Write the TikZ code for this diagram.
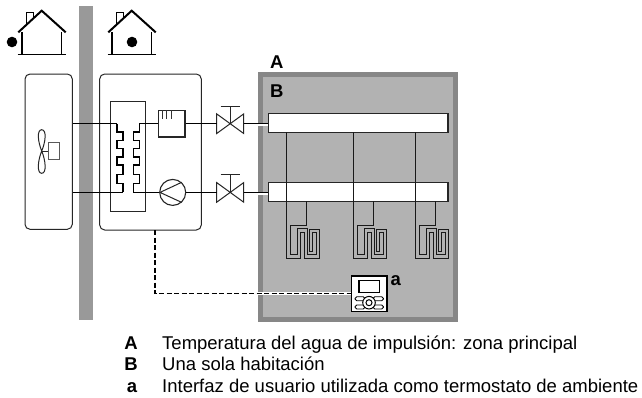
\documentclass[tikz,border=0pt]{standalone}
\usepackage{fontspec}
\setmainfont{Liberation Sans}
\begin{document}
\begin{tikzpicture}[x=1pt,y=-1pt,
  box/.style={draw=black!85,line width=1pt},
  pipe/.style={draw=black,line width=1.1pt},
  thick pipe/.style={draw=black,line width=1.6pt},
  house/.style={draw=black,line width=1.2pt},
  roof/.style={draw=black,line width=2pt},
  tag/.style={font=\bfseries\fontsize{18.5}{18.5}\selectfont,inner sep=0pt},
  legkey/.style={font=\bfseries\fontsize{18.5}{20}\selectfont,inner sep=0pt,anchor=base},
  legtxt/.style={font=\fontsize{18.5}{20}\selectfont,inner sep=0pt,anchor=base west},
  tube/.style={draw=black!90,line width=0.95pt,line join=miter},
  manifold/.style={draw=black!85,line width=1.1pt,fill=white,minimum width=179.7pt,minimum height=18.6pt,inner sep=0pt},
  dash line/.style={draw=black,line width=1.2pt,dash pattern=on 5pt off 2.5pt},
  dot/.style={circle,fill=black,minimum size=10.6pt,inner sep=0pt},
  valvepart/.style={draw=black!85,line width=1pt,fill=white}]
\useasboundingbox (0,0) rectangle (642,397);
\fill[white] (0,0) rectangle (642,397);

% wall
\fill[black!40] (79,6) rectangle (92.7,320);

% houses
\foreach \dx/\dotx/\nm in {0/12/one,90/132/two}{
  \begin{scope}[xshift=\dx pt]
    \draw[house] (22,32.3) -- (22,54.5) (61.7,32.3) -- (61.7,54.5) (17.7,54.5) -- (66,54.5);
    \draw[house,line width=1pt] (26.7,24) -- (26.7,12.3) -- (33.7,12.3) -- (33.7,17);
    \draw[roof] (18.3,32.3) -- (41.7,10.7) -- (65.7,32.3);
  \end{scope}
  \node[dot] (dot\nm) at (\dotx,42) {};
}

% room
\draw[draw=black!47,fill=black!30,line width=5pt] (260.2,74.5) rectangle (455.8,319.2);
\node[tag] (tagA) at (276.7,62) {A};
\node[tag] (tagB) at (276.7,90.7) {B};

% outdoor and indoor unit
\node[box,rounded corners=5pt,minimum width=47.3pt,minimum height=155.3pt,inner sep=0pt] (outdoor) at (48.65,151.65) {};
\node[box,rounded corners=5pt,minimum width=101.6pt,minimum height=156pt,inner sep=0pt] (indoor) at (150.5,152) {};
\node[box,minimum width=34.6pt,minimum height=110.3pt,inner sep=0pt] (hx) at (128,156.15) {};

% fan
\draw[black!85,line width=1pt] (41.7,151) .. controls (38,142) and (36.5,130) .. (41.7,129.7) .. controls (47,130) and (45.5,142) .. (41.7,151)
  .. controls (38,160) and (36.5,173.3) .. (41.7,173.3) .. controls (47,173.3) and (45.5,160) .. (41.7,151);
\node[draw=black!65,line width=1.1pt,minimum width=11pt,minimum height=17.4pt,inner sep=0pt] (motor) at (53.8,151) {};
\coordinate (fanhub) at (41.7,151);
\draw[black!85,line width=1pt] (fanhub) -- (motor.west);

% heater box
\node[box,line width=1.1pt,minimum width=26.7pt,minimum height=26.7pt,inner sep=0pt,fill=white] (heater) at (171.65,123.65) {};
\draw[black!80,line width=0.9pt] (162.3,110.3) -- (162.3,119.3) (166.7,110.3) -- (166.7,119.3) (171,110.3) -- (171,119.3);

% pump
\node[draw=black!85,line width=1.1pt,circle,minimum size=26pt,inner sep=0pt,fill=white] (pump) at (172.7,192.4) {};
\draw[black!85,line width=1pt,line join=round] (160,192.4) -- (181.7,182.3) (160,192.4) -- (181.7,202.4);

% valves
\foreach \nm/\yy in {v1/123.7,v2/192.4}{
  \coordinate (\nm) at (230,\yy);
  \coordinate (\nm w) at (216.7,\yy);
  \coordinate (\nm e) at (243.7,\yy);
  \draw[valvepart] (216.7,\yy-9.8) -- (243.7,\yy+9.8) -- (243.7,\yy-9.8) -- (216.7,\yy+9.8) -- cycle;
  \draw[black!85,line width=1pt] (230,\yy) -- (230,\yy-17.7) (220.7,\yy-17.7) -- (239.7,\yy-17.7);
}

% manifolds
\node[manifold] (man1) at (358.15,123) {};
\node[manifold] (man2) at (358.15,192) {};

% rows of the two pipe runs
\coordinate (row1) at (0,123.7);
\coordinate (row2) at (0,192.4);
\coordinate (halo1) at (250,124.5);
\coordinate (halo2) at (250,193);

% white break through the room border
\draw[white,line width=3pt] (halo1) -- (man1.west |- halo1);
\draw[white,line width=3pt] (halo2) -- (man2.west |- halo2);

% pipes
\coordinate (o1) at (outdoor.east |- row1);
\coordinate (o2) at (outdoor.east |- row2);
\coordinate (hxL) at (116.7,123.7);
\coordinate (hxR) at (139.3,123.7);
\coordinate (hxLb) at (122.7,192.4);
\coordinate (hxRb) at (133.3,192.4);
\draw[pipe] (o1) -- (hxL);
\draw[pipe] (o2) -- (hxLb);
\draw[thick pipe,line join=miter] (hxL) -- (116.7,132) -- (122.7,132) -- (122.7,140.5) -- (116.7,140.5) -- (116.7,148.5) -- (122.7,148.5) -- (122.7,157) -- (116.7,157) -- (116.7,165) -- (122.7,165) -- (122.7,174.5) -- (116.7,174.5) -- (116.7,183.3) -- (122.7,183.3) -- (hxLb);
\draw[thick pipe,line join=miter] (hxR) -- (139.3,132) -- (133.3,132) -- (133.3,140.5) -- (139.3,140.5) -- (139.3,148.5) -- (133.3,148.5) -- (133.3,157) -- (139.3,157) -- (139.3,165) -- (133.3,165) -- (133.3,174.5) -- (139.3,174.5) -- (139.3,183.3) -- (133.3,183.3) -- (hxRb);
\draw[pipe] (hxR) -- (heater.west |- hxR);
\draw[pipe] (heater.east |- hxR) -- (v1w);
\draw[pipe] (hxRb) -- (pump.west);
\draw[pipe] (pump.east) -- (v2w);
\draw[pipe] (v1e) -- (man1.west |- v1e);
\draw[pipe] (v2e) -- (man2.west |- v2e);

% floor loops
\foreach \nm/\dx in {a/0,b/67,c/129}{
  \begin{scope}[xshift=\dx pt]
    \draw[tube] (286.4,132.3) -- (286.4,258) -- (300.7,258) -- (300.7,232) -- (304,232) -- (304,258) -- (319.3,258) -- (319.3,229) -- (309.4,229) -- (309.4,251.7) -- (312,251.7) -- (312,232) -- (316,232) -- (316,254.7) -- (307.3,254.7) -- (307.3,228.5) -- (297.3,228.5) -- (297.3,254.7) -- (290.3,254.7) -- (290.3,225) -- (306.4,225) -- (306.4,201.3);
  \end{scope}
}

% controller
\node[draw=black,line width=1.3pt,fill=white,minimum width=35.7pt,minimum height=35.3pt,inner sep=0pt] (ctrl) at (369.15,293.65) {};
\draw[black,line width=1.1pt] (359,280.3) rectangle (379.3,292.7);
\foreach \yy in {298.7,307}{
  \draw[black,line width=0.9pt,rounded corners=1.8pt,fill=white] (355,\yy-2) rectangle (365,\yy+2);
  \draw[black,line width=0.9pt,rounded corners=1.8pt,fill=white] (373,\yy-2) rectangle (383.5,\yy+2);
}
\node[circle,draw=black,line width=1pt,fill=white,minimum size=12.6pt,inner sep=0pt] (wheel) at (369,302.7) {};
\node[circle,draw=black,line width=1pt,minimum size=6pt,inner sep=0pt] (hub) at (369,302.7) {};
\node[tag] (taga) at (395.7,281) {a};

% interface link
\coordinate (bend) at (155,293.3);
\coordinate (halo3) at (256,293.3);
\draw[white,line width=3pt] (halo3) -- (ctrl.west |- bend);
\draw[dash line] (155,230) -- (bend) -- (ctrl.west |- bend);

% legend
\node[legkey] (k1) at (131,349.2) {A};
\node[legtxt] (t1) at (162,349.2) {Temperatura del agua de impulsión: zona principal};
\node[legkey] (k2) at (131,370.5) {B};
\node[legtxt] (t2) at (162,370.5) {Una sola habitación};
\node[legkey] (k3) at (132,392) {a};
\node[legtxt] (t3) at (162,392) {Interfaz de usuario utilizada como termostato de ambiente};
\end{tikzpicture}
\end{document}
